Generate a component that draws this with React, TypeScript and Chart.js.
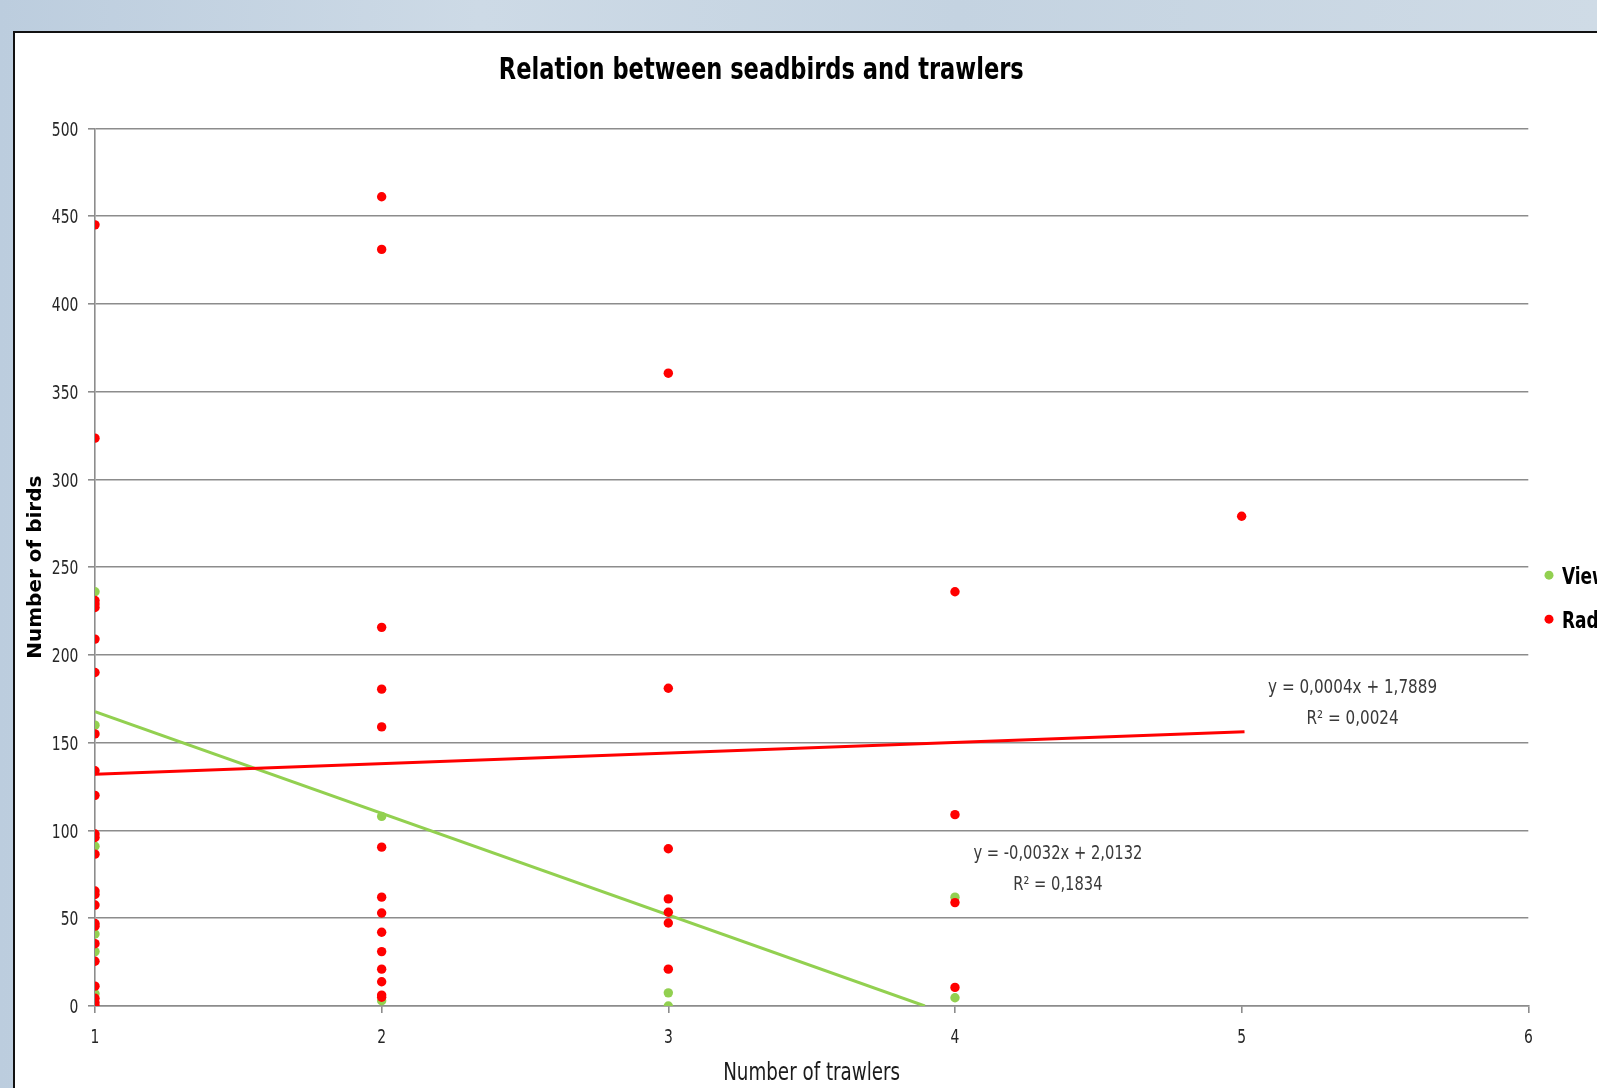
import { useEffect, useRef } from "react";
import { Chart, registerables } from "chart.js";

Chart.register(...registerables);

// ---------- data ----------
const TITLE = "Relation between seadbirds and trawlers";
const X_TITLE = "Number of trawlers";
const Y_TITLE = "Number of birds";
const SERIES_NAMES = ["Viewer", "Radar"];

const viewerX = [1, 1, 1, 1, 1, 1, 2, 2, 3, 3, 4, 4];
const viewerY = [236, 160, 91, 41, 31, 7, 108, 3, 7.5, 0, 62, 4.7];

const radarX = [
  1, 1, 1, 1, 1, 1, 1, 1, 1, 1, 1, 1, 1, 1, 1, 1, 1, 1, 1, 1, 1, 1, 1, 1,
  2, 2, 2, 2, 2, 2, 2, 2, 2, 2, 2, 2, 2, 2,
  3, 3, 3, 3, 3, 3, 3,
  4, 4, 4, 4,
  5,
];
const radarY = [
  445, 323.5, 231, 229, 227, 209, 190, 155, 134, 120, 98, 96, 86.5, 65.5, 63.5, 57.5, 47, 45.5, 35.5, 25.5, 11.3, 4.4, 1.9, 0,
  461, 431, 215.7, 180.5, 159, 90.5, 62, 53, 42, 31, 21, 13.8, 6.2, 5,
  360.5, 181, 89.6, 61, 53.4, 47.3, 21,
  236, 109, 58.9, 10.6,
  279,
];

const radarTrendX = [1, 5.01];
const radarTrendY = [132, 156.3];
const viewerTrendX = [1, 3.895];
const viewerTrendY = [167.7, 0];

const radarEq = ["y = 0,0004x + 1,7889", "R² = 0,0024"];
const radarEqAt = [5.387, 178.3];
const viewerEq = ["y = -0,0032x + 2,0132", "R² = 0,1834"];
const viewerEqAt = [4.359, 83.8];

const X_MIN = 1;
const X_MAX = 6;
const X_STEP = 1;
const Y_MIN = 0;
const Y_MAX = 500;
const Y_STEP = 50;

// ---------- style ----------
const RED = "#ff0000";
const GREEN = "#92d050";
const GRID = "#8c8c8c";
const NARROW = "'Liberation Sans Narrow', 'DejaVu Sans Condensed', 'Arial Narrow', sans-serif";
const TICK_COLOR = "#262626";
const CANVAS_W = 1640;
const CANVAS_H = 1055;

function drawText(
  ctx: CanvasRenderingContext2D,
  text: string,
  x: number,
  y: number,
  font: string,
  color: string,
  align: CanvasTextAlign,
  targetW?: number,
  fixedScale?: number
) {
  ctx.save();
  ctx.font = font;
  ctx.fillStyle = color;
  ctx.textAlign = align;
  ctx.textBaseline = "alphabetic";
  const w = ctx.measureText(text).width;
  const s = fixedScale ?? (targetW ? targetW / w : 1);
  ctx.translate(x, y);
  ctx.scale(s, 1);
  ctx.fillText(text, 0, 0);
  ctx.restore();
  return s;
}

function measure(ctx: CanvasRenderingContext2D, text: string, font: string) {
  ctx.save();
  ctx.font = font;
  const w = ctx.measureText(text).width;
  ctx.restore();
  return w;
}

const textPlugin = {
  id: "customText",
  afterDraw(chart: any) {
    const { ctx, chartArea, scales } = chart;
    // title
    drawText(ctx, TITLE, 746.3, 46, `bold 31px ${NARROW}`, "#000", "center", 525);

    // tick labels (from the library's scales)
    const tickFont = `20px ${NARROW}`;
    const ts = 26.5 / measure(ctx, "500", tickFont);
    scales.y.ticks.forEach((t: any) => {
      const py = scales.y.getPixelForValue(t.value);
      drawText(ctx, String(t.label), chartArea.left - 16.7, py + 7.2, tickFont, TICK_COLOR, "right", undefined, ts);
    });
    scales.x.ticks.forEach((t: any) => {
      const px = scales.x.getPixelForValue(t.value);
      drawText(ctx, String(t.label), px, 1009.7, tickFont, TICK_COLOR, "center", undefined, ts);
    });

    // x-axis title
    drawText(ctx, X_TITLE, (chartArea.left + chartArea.right) / 2, 1047, `24px ${NARROW}`, "#1a1a1a", "center", 177);

    // legend
    const mid = (chartArea.top + chartArea.bottom) / 2;
    const items = [
      { name: SERIES_NAMES[0], color: GREEN, dy: 8 },
      { name: SERIES_NAMES[1], color: RED, dy: 52 },
    ];
    items.forEach((it) => {
      ctx.save();
      ctx.fillStyle = it.color;
      ctx.beginPath();
      ctx.arc(chartArea.right + 20.7, mid + it.dy, 4.5, 0, Math.PI * 2);
      ctx.fill();
      ctx.restore();
      drawText(ctx, it.name, chartArea.right + 33.7, mid + it.dy + 9, `bold 23px ${NARROW}`, "#000", "left", undefined, 0.82);
    });

    // trendline equations
    const eqs: [string[], number[]][] = [
      [radarEq, radarEqAt],
      [viewerEq, viewerEqAt],
    ];
    eqs.forEach(([lines, at]) => {
      const px = scales.x.getPixelForValue(at[0]);
      const py = scales.y.getPixelForValue(at[1]);
      const s = drawText(ctx, lines[0], px, py, `19px ${NARROW}`, "#3a3a3a", "center", 169);
      drawText(ctx, lines[1], px, py + 31, `19px ${NARROW}`, "#3a3a3a", "center", undefined, s);
    });
  },
};

export default function App() {
  const ref = useRef<HTMLCanvasElement | null>(null);

  useEffect(() => {
    if (!ref.current) return;
    const chart = new Chart(ref.current, {
      type: "scatter",
      data: {
        datasets: [
          {
            label: SERIES_NAMES[1],
            data: radarX.map((x, i) => ({ x, y: radarY[i] })),
            backgroundColor: RED,
            borderColor: RED,
            borderWidth: 0,
            pointRadius: 4.7,
            order: 1,
          },
          {
            label: SERIES_NAMES[0],
            data: viewerX.map((x, i) => ({ x, y: viewerY[i] })),
            backgroundColor: GREEN,
            borderColor: GREEN,
            borderWidth: 0,
            pointRadius: 4.7,
            order: 2,
          },
          {
            label: "Radar trend",
            type: "line",
            data: radarTrendX.map((x, i) => ({ x, y: radarTrendY[i] })),
            borderColor: RED,
            borderWidth: 3,
            pointRadius: 0,
            showLine: true,
            fill: false,
            order: 3,
          },
          {
            label: "Viewer trend",
            type: "line",
            data: viewerTrendX.map((x, i) => ({ x, y: viewerTrendY[i] })),
            borderColor: GREEN,
            borderWidth: 3,
            pointRadius: 0,
            showLine: true,
            fill: false,
            order: 4,
          },
        ] as any,
      },
      options: {
        responsive: false,
        animation: false,
        devicePixelRatio: 1,
        layout: { padding: { left: 0, top: 95.3, right: CANVAS_W - 1513.3, bottom: 0 } },
        plugins: {
          legend: { display: false },
          title: { display: false },
          tooltip: { enabled: false },
        },
        scales: {
          x: {
            type: "linear",
            min: X_MIN,
            max: X_MAX,
            afterFit: (s: any) => {
              s.height = CANVAS_H - 973;
            },
            ticks: {
              stepSize: X_STEP,
              display: false,
            },
            grid: {
              drawOnChartArea: false,
              drawTicks: true,
              tickLength: 7,
              color: GRID,
              lineWidth: 1.6,
            },
            border: { display: true, color: GRID, width: 1.6 },
            title: { display: false },
          },
          y: {
            type: "linear",
            min: Y_MIN,
            max: Y_MAX,
            afterFit: (s: any) => {
              s.width = 80;
            },
            ticks: {
              stepSize: Y_STEP,
              display: false,
            },
            grid: {
              drawTicks: true,
              tickLength: 7,
              color: GRID,
              lineWidth: 1.6,
            },
            border: { display: true, color: GRID, width: 1.6 },
            title: {
              display: true,
              text: Y_TITLE,
              color: "#000",
              font: { family: "'DejaVu Sans'", size: 20, weight: "bold" },
              padding: { top: 9, bottom: 0 },
            },
          },
        },
      },
      plugins: [textPlugin],
    } as any);
    return () => chart.destroy();
  }, []);

  return (
    <div
      style={{
        position: "fixed",
        left: 0,
        top: 0,
        width: 1597,
        height: 1088,
        overflow: "hidden",
        background: "linear-gradient(90deg, #bccdde 0%, #cddae6 30%, #c4d3e1 60%, #cfdbe6 100%)",
      }}
    >
      <div
        style={{
          position: "absolute",
          left: 13,
          top: 31,
          width: CANVAS_W,
          height: CANVAS_H + 20,
          background: "#fff",
          border: "2px solid #111",
        }}
      >
        <canvas ref={ref} width={CANVAS_W} height={CANVAS_H} style={{ display: "block" }} />
      </div>
    </div>
  );
}
